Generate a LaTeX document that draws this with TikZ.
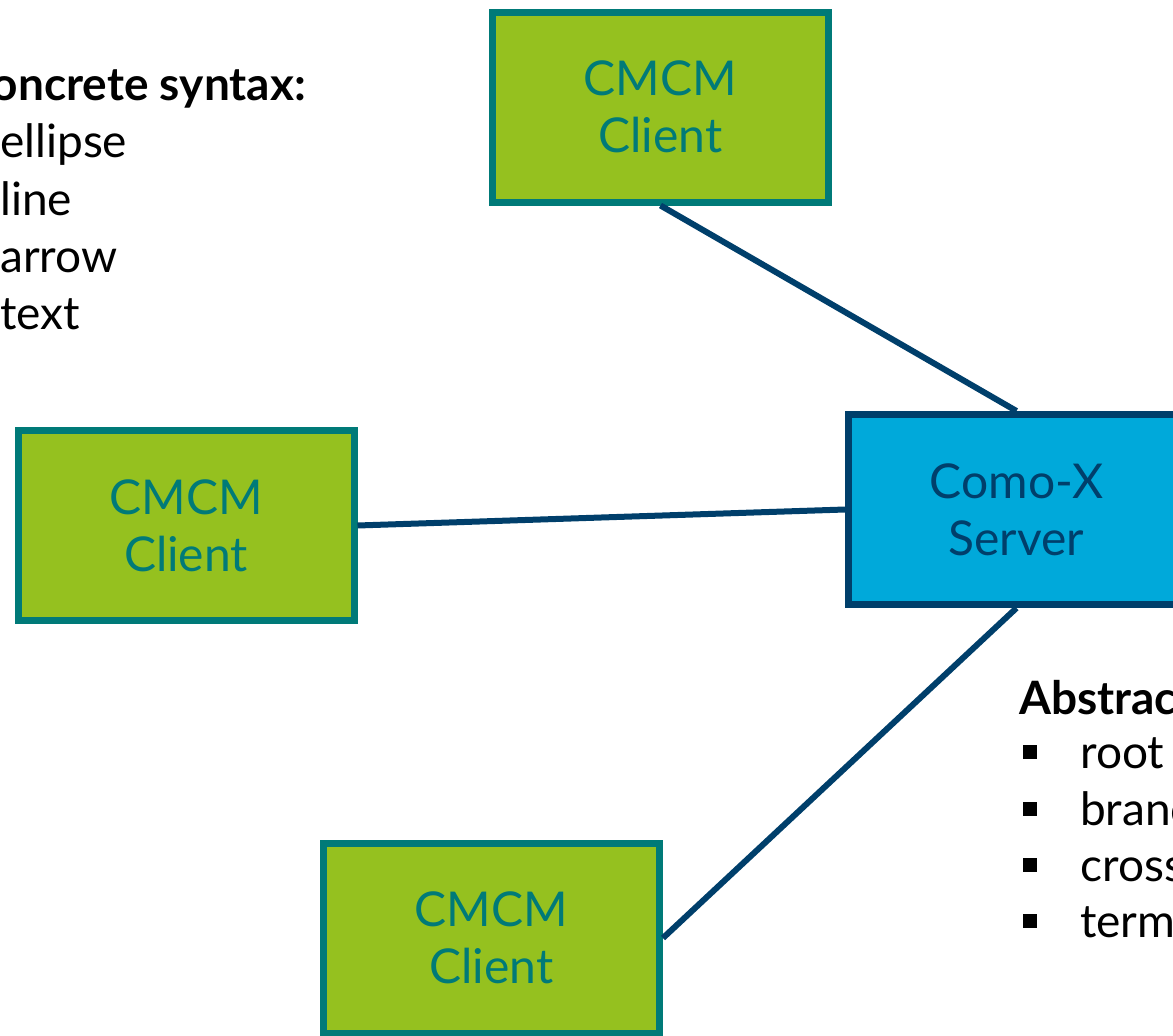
\documentclass[tikz,border=0pt]{standalone}
\usepackage{fontspec}
\setmainfont{Lato}
\definecolor{cgreen}{HTML}{95C11F}
\definecolor{cteal}{HTML}{007A78}
\definecolor{cblue}{HTML}{00A9DA}
\definecolor{cnavy}{HTML}{003F6B}
\tikzset{
  client/.style={draw=cteal, fill=cgreen, line width=7pt, minimum width=336pt, minimum height=190pt, text=cteal, align=center, font=\fontsize{48}{57}\selectfont, inner sep=0pt},
  server/.style={draw=cnavy, fill=cblue, line width=7pt, minimum width=336pt, minimum height=190pt, text=cnavy, align=center, font=\fontsize{48}{57}\selectfont, inner sep=0pt},
  conn/.style={draw=cnavy, line width=6pt},
  side/.style={font=\fontsize{46}{57}\selectfont, inner sep=0pt, anchor=base west},
  sidehead/.style={font=\fontsize{46}{57}\selectfont\bfseries, inner sep=0pt},
  sqbullet/.style={fill=black, minimum size=14pt, inner sep=0pt}
}
\begin{document}
\begin{tikzpicture}[x=1pt,y=-1pt]
\useasboundingbox (0,0) rectangle (1173,1036);
\clip (0,0) rectangle (1173,1036);
\fill[white] (0,0) rectangle (1173,1036);
% nodes
\node[client] (top) at (660.5,107) {CMCM\\Client};
\node[client] (left) at (186,525.5) {CMCM\\Client};
\node[client] (bot) at (491.5,938) {CMCM\\Client};
\node[server] (srv) at (1016.5,509.5) {Como-X\\Server};
% connectors
\draw[conn] (top.south) -- (srv.north);
\draw[conn] (left.east) -- (srv.west);
\draw[conn] (bot.east) -- (srv.south);
% side texts
\node[sidehead, anchor=base east] (cs) at (306,100) {Concrete syntax:};
\node[side] (c1) at (0,157) {ellipse};
\node[side] (c2) at (0,215) {line};
\node[side] (c3) at (0,272) {arrow};
\node[side] (c4) at (0,329) {text};
\node[sidehead, anchor=base west] (as) at (1019,714) {Abstract syntax:};
\node[side] (a1) at (1080,768) {root};
\node[side] (a2) at (1080,825) {branch};
\node[side] (a3) at (1080,881) {crossing};
\node[side] (a4) at (1080,937) {terminal};
\node[sqbullet] (b1) at (1030,752) {};
\node[sqbullet] (b2) at (1030,809) {};
\node[sqbullet] (b3) at (1030,865) {};
\node[sqbullet] (b4) at (1030,921) {};
\end{tikzpicture}
\end{document}
